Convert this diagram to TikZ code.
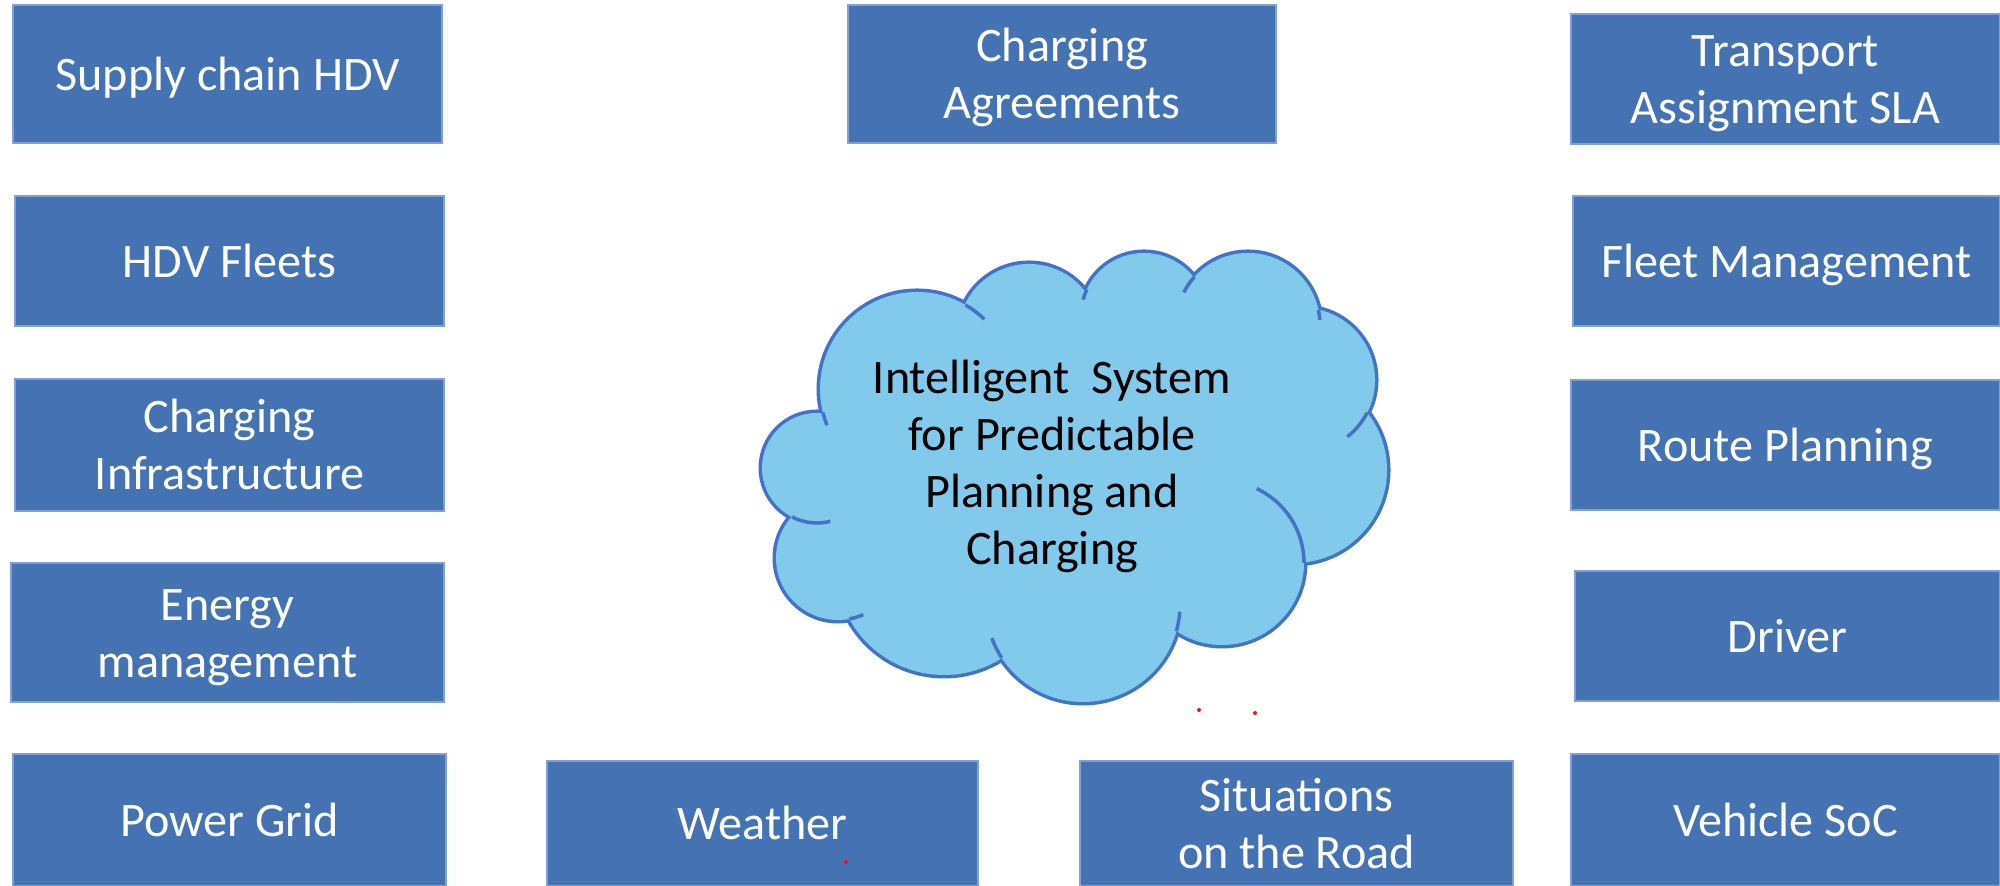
\documentclass[tikz,border=0pt]{standalone}
\usepackage{fontspec}
\setmainfont{Carlito}
\definecolor{boxfill}{RGB}{68,114,178}
\definecolor{boxline}{RGB}{130,160,210}
\definecolor{cloudfill}{RGB}{130,202,236}
\definecolor{cloudline}{RGB}{68,114,196}
\definecolor{dotred}{RGB}{230,20,30}
\newcommand\bt[1]{\rule{0pt}{12.8pt}#1\rule[-3.5pt]{0pt}{0pt}}
\tikzset{
  box/.style={rectangle, fill=boxfill, draw=boxline, line width=0.4pt, inner sep=0pt,
    text=white, align=center, font=\fontsize{13.7}{16.2}\selectfont},
  cloudtext/.style={inner sep=0pt, text=black, align=center, font=\fontsize{13.7}{16.2}\selectfont},
  cloudedge/.style={draw=cloudline, line width=1pt},
  reddot/.style={fill=dotred}
}
\newcommand\cloudcircles[1]{%
  \path[#1] (817,418) circle[radius=55];
  \path[#1] (838,328) circle[radius=62];
  \path[#1] (944,319) circle[radius=108];
  \path[#1] (1083,281) circle[radius=97];
  \path[#1] (1222,323) circle[radius=82];
  \path[#1] (1294,416) circle[radius=93];
  \path[#1] (1303,506) circle[radius=72];
  \path[#1] (1248,561) circle[radius=72];
  \path[#1] (1144,570) circle[radius=63];
  \path[#1] (1029,551) circle[radius=71];
  \path[#1] (917,497) circle[radius=97];
}
\newcommand\stub[5]{\draw[cloudedge] (#1,#2) ++(#4:#3) arc[start angle=#4, end angle=#5, radius=#3];}
\begin{document}
\begin{tikzpicture}[x=0.01cm,y=0.01cm]
\useasboundingbox (0,0) rectangle (2000,886);
% left column
\node[box, minimum width=4.29cm, minimum height=1.38cm] (supply) at (227.5,812) {\bt{Supply chain HDV}};
\node[box, minimum width=4.29cm, minimum height=1.30cm] (fleets) at (229.5,625) {\bt{HDV Fleets}};
\node[box, minimum width=4.29cm, minimum height=1.32cm] (infra) at (229.5,441) {\bt{Charging\\Infrastructure}};
\node[box, minimum width=4.33cm, minimum height=1.39cm] (energy) at (227.5,253.5) {\bt{Energy\\management}};
\node[box, minimum width=4.33cm, minimum height=1.32cm] (grid) at (229.5,66) {\bt{Power Grid}};
% middle
\node[box, minimum width=4.28cm, minimum height=1.38cm] (agree) at (1062,812) {\bt{Charging\\Agreements}};
\node[box, minimum width=4.31cm, minimum height=1.25cm] (weather) at (762.5,62.5) {\bt{Weather}};
\node[box, minimum width=4.33cm, minimum height=1.25cm] (road) at (1296.5,62.5) {\bt{Situations\\on the Road}};
% right column
\node[box, minimum width=4.29cm, minimum height=1.30cm] (transport) at (1785.5,807) {\bt{Transport\\Assignment SLA}};
\node[box, minimum width=4.27cm, minimum height=1.30cm] (fleetmgmt) at (1786.5,625) {\bt{Fleet Management}};
\node[box, minimum width=4.29cm, minimum height=1.30cm] (route) at (1785.5,441) {\bt{Route Planning}};
\node[box, minimum width=4.25cm, minimum height=1.30cm] (driver) at (1787.5,250) {\bt{Driver}};
\node[box, minimum width=4.29cm, minimum height=1.32cm] (soc) at (1785.5,66) {\bt{Vehicle SoC}};
% cloud
\cloudcircles{draw=cloudline, line width=2pt}
\cloudcircles{fill=cloudfill}
\fill[cloudfill] (1075,440) ellipse[x radius=200, y radius=150];
\fill[cloudfill] (880,420) circle[radius=50];
\stub{917}{497}{97}{60}{46}
\stub{1144}{570}{63}{155}{165}
\stub{1248}{561}{72}{138}{153}
\stub{1248}{561}{72}{12}{4}
\stub{1303}{506}{72}{-27}{-52}
\stub{1222}{323}{82}{0}{65}
\stub{1083}{281}{97}{-15.7}{-4}
\stub{1083}{281}{97}{213}{200}
\stub{838}{328}{62}{-79.5}{-66}
\stub{817}{418}{55}{-117}{-76}
\stub{917}{497}{97}{194}{202}
\node[cloudtext] (system) at (1052,423) {\bt{Intelligent~ System\\for Predictable\\Planning and\\Charging}};
% small red marks
\fill[reddot] (1199,176) circle[radius=2];
\fill[reddot] (1255,173) circle[radius=2];
\fill[reddot] (846,24) circle[radius=2];
\end{tikzpicture}
\end{document}
